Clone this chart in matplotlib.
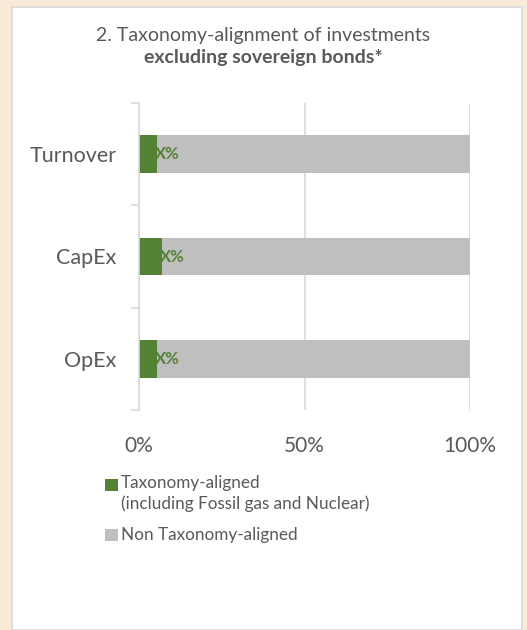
import matplotlib
matplotlib.use("Agg")
import matplotlib.pyplot as plt
from matplotlib.patches import Rectangle

# categories and values (share in %)
categories = ["Turnover", "CapEx", "OpEx"]
aligned = [5.5, 7.0, 5.5]
non_aligned = [94.5, 93.0, 94.5]
bar_labels = ["X%", "X%", "X%"]
xticks = [0, 50, 100]
xtick_labels = ["0%", "50%", "100%"]

green = "#548235"
grey = "#BFBFBF"
txt = "#595959"
grid = "#D9D9D9"

plt.rcParams["font.family"] = ["Lato", "DejaVu Sans"]

fig = plt.figure(figsize=(5.27, 6.30), dpi=100)
fig.patch.set_facecolor("#FAEAD8")

# white panel behind the chart
panel = Rectangle((12/527, 0), 510/527, 1 - 7/630, transform=fig.transFigure,
                  facecolor="white", edgecolor=grid, linewidth=1.2, zorder=-5)
fig.patches.append(panel)

ax = fig.add_axes([139/527, 1 - 410/630, 331/527, 307/630])
ax.set_facecolor("none")

y = list(range(len(categories)))
ax.barh(y, aligned, height=0.37, color=green, zorder=2)
ax.barh(y, non_aligned, left=aligned, height=0.37, color=grey, zorder=2)

for yi, a, lab in zip(y, aligned, bar_labels):
    ax.text(a + 3.0, yi, lab, ha="center", va="center", color=green,
            fontsize=12, fontweight="bold", zorder=3)

ax.set_xlim(0, 100)
ax.set_ylim(2.5, -0.5)
ax.set_xticks(xticks)
ax.set_xticklabels(xtick_labels, fontsize=15, color=txt)
ax.tick_params(axis="x", length=0, pad=19)
ax.set_yticks(y)
ax.set_yticklabels(categories, fontsize=15.5, color=txt)
ax.tick_params(axis="y", length=0, pad=16)
ax.set_yticks([-0.5, 0.5, 1.5, 2.5], minor=True)
ax.tick_params(axis="y", which="minor", length=6, color=grid, width=1.2)

ax.grid(axis="x", color=grid, linewidth=1.2, zorder=0)
for s in ["top", "right", "bottom"]:
    ax.spines[s].set_visible(False)
ax.spines["left"].set_color(grid)
ax.spines["left"].set_linewidth(1.2)

fig.text(0.5, 1 - 35/630, "2. Taxonomy-alignment of investments", ha="center",
         va="center", fontsize=14, color=txt)
fig.text(0.5, 1 - 57/630, "excluding sovereign bonds*", ha="center",
         va="center", fontsize=14, color=txt, fontweight="bold")

# legend
fig.patches.append(Rectangle((105/527, 1 - 491/630), 13/527, 12/630,
                             transform=fig.transFigure, facecolor=green))
fig.patches.append(Rectangle((105/527, 1 - 541/630), 13/527, 12/630,
                             transform=fig.transFigure, facecolor=grey))
fig.text(121/527, 1 - 483/630, "Taxonomy-aligned", va="center",
         fontsize=12.3, color=txt)
fig.text(121/527, 1 - 504/630, "(including Fossil gas and Nuclear)", va="center",
         fontsize=12.3, color=txt)
fig.text(121/527, 1 - 535/630, "Non Taxonomy-aligned", va="center",
         fontsize=12.3, color=txt)

fig.savefig("out.png", dpi=100, facecolor=fig.get_facecolor())
